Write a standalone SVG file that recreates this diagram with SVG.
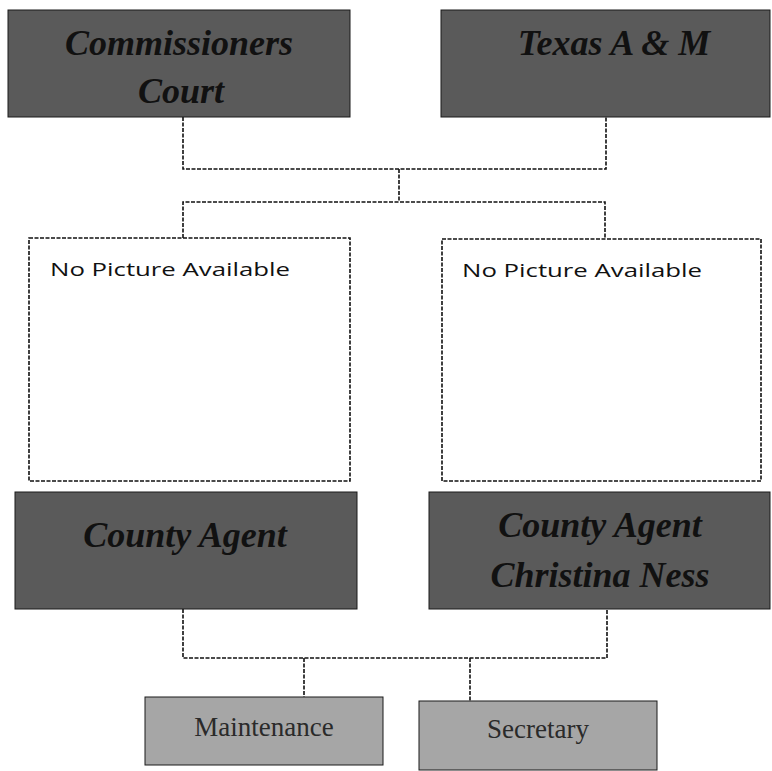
<svg xmlns="http://www.w3.org/2000/svg" width="772" height="771" viewBox="0 0 772 771">
<style>
.bg{fill:#ffffff}
.dark{fill:#5a5a5a;stroke:#1a1a1a;stroke-width:1}
.light{fill:#a6a6a6;stroke:#1a1a1a;stroke-width:1}
.pic{fill:#ffffff;stroke:#111;stroke-width:1.6;stroke-dasharray:4 1.5}
.conn{fill:none;stroke:#111;stroke-width:1.6;stroke-dasharray:4 1.5}
.t1{font-family:"Liberation Serif","Times New Roman",serif;font-weight:bold;font-style:italic;font-size:36px;fill:#111;text-anchor:middle}
.t2{font-family:"Liberation Serif","Times New Roman",serif;font-size:27px;fill:#2a2a2a;text-anchor:middle}
.t3{font-family:"Open Sans","Liberation Sans",Arial,sans-serif;font-size:19px;fill:#111}
</style>
<rect class="bg" x="0" y="0" width="772" height="771"/>
<g id="connectors">
<path class="conn" d="M183 117 V169 H606 V117"/>
<path class="conn" d="M399 169 V202"/>
<path class="conn" d="M183 238 V202 H605 V239"/>
<path class="conn" d="M183 609 V658 H607 V609"/>
<path class="conn" d="M304 658 V697"/>
<path class="conn" d="M470 658 V701"/>
</g>
<g id="commissioners-court">
<rect class="dark" x="8" y="10" width="342" height="107"/>
<text class="t1" x="179" y="55">Commissioners</text>
<text class="t1" x="181" y="103">Court</text>
</g>
<g id="texas-am">
<rect class="dark" x="441" y="10" width="329" height="107"/>
<text class="t1" x="614" y="55">Texas A &amp; M</text>
</g>
<g id="picture-left">
<rect class="pic" x="29" y="238" width="321" height="243"/>
<text class="t3" x="50" y="276" textLength="240" lengthAdjust="spacingAndGlyphs">No Picture Available</text>
</g>
<g id="picture-right">
<rect class="pic" x="442" y="239" width="319" height="242"/>
<text class="t3" x="462" y="277" textLength="240" lengthAdjust="spacingAndGlyphs">No Picture Available</text>
</g>
<g id="county-agent">
<rect class="dark" x="15" y="492" width="342" height="117"/>
<text class="t1" x="185" y="547">County Agent</text>
</g>
<g id="county-agent-christina">
<rect class="dark" x="429" y="492" width="341" height="117"/>
<text class="t1" x="600" y="537">County Agent</text>
<text class="t1" x="600" y="587">Christina Ness</text>
</g>
<g id="maintenance">
<rect class="light" x="145" y="697" width="238" height="68"/>
<text class="t2" x="264" y="736">Maintenance</text>
</g>
<g id="secretary">
<rect class="light" x="419" y="701" width="238" height="69"/>
<text class="t2" x="538" y="738">Secretary</text>
</g>
</svg>
